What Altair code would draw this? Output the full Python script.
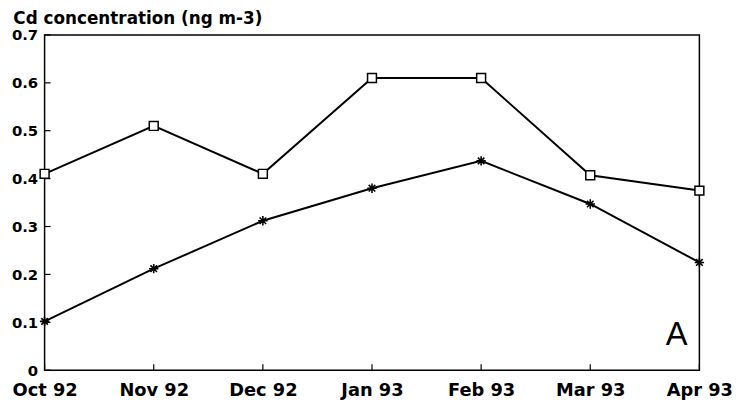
import altair as alt
import pandas as pd

months = ["Oct 92", "Nov 92", "Dec 92", "Jan 93", "Feb 93", "Mar 93", "Apr 93"]
series_square = [0.41, 0.51, 0.41, 0.61, 0.61, 0.407, 0.375]
series_star = [0.102, 0.212, 0.312, 0.38, 0.437, 0.347, 0.225]
y_ticks = [0, 0.1, 0.2, 0.3, 0.4, 0.5, 0.6, 0.7]
title_text = "Cd concentration (ng m-3)"
panel_letter = "A"

W, H = 662, 339

sq = pd.DataFrame({"month": months, "value": series_square, "series": "square"})
st = pd.DataFrame({"month": months, "value": series_star, "series": "star"})
df = pd.concat([sq, st], ignore_index=True)
ticks_y = pd.DataFrame({"value": y_ticks})
ticks_x = pd.DataFrame({"month": months})

x_scale = alt.Scale(type="point", domain=months, padding=0)
x_enc = alt.X(
    "month:N", sort=None, scale=x_scale,
    axis=alt.Axis(title=None, labelAngle=0, tickSize=0, domain=False,
                  labelFont="DejaVu Sans", labelFontWeight="bold", labelFontSize=18,
                  labelColor="black", labelPadding=12, grid=False),
)
x_plain = alt.X("month:N", sort=None, scale=x_scale)
y_scale = alt.Scale(domain=[0, 0.7], nice=False, zero=True)
y_enc = alt.Y(
    "value:Q", scale=y_scale,
    axis=alt.Axis(title=None, values=y_ticks, tickSize=0, domain=False, grid=False,
                  labelExpr="datum.value == 0 ? '0' : format(datum.value, '.1f')",
                  labelFont="DejaVu Sans", labelFontWeight="bold", labelFontSize=15,
                  labelColor="black", labelPadding=7),
)
y_plain = alt.Y("value:Q", scale=y_scale)

lines = alt.Chart(df).mark_line(color="black", strokeWidth=2).encode(
    x=x_enc, y=y_enc, detail="series:N"
)
squares = alt.Chart(sq).mark_point(
    shape="square", size=81, filled=False, fill="white", fillOpacity=1,
    stroke="black", strokeWidth=1.5, opacity=1
).encode(x=x_plain, y=y_plain)
stars = alt.Chart(st).mark_point(
    shape="M-1,0L1,0M0,-1L0,1M-0.7,-0.7L0.7,0.7M-0.7,0.7L0.7,-0.7",
    size=90, filled=False, stroke="black", strokeWidth=1.6, opacity=1
).encode(x=x_plain, y=y_plain)

ytick_rules = alt.Chart(ticks_y).mark_rule(color="black", strokeWidth=1.2).encode(
    y=y_plain, x=alt.value(0), x2=alt.value(6)
)
xtick_rules = alt.Chart(ticks_x).mark_rule(color="black", strokeWidth=1.2).encode(
    x=x_plain, y=alt.value(H), y2=alt.value(H - 6)
)
letter = alt.Chart(pd.DataFrame({"t": [panel_letter]})).mark_text(
    font="Liberation Sans", fontSize=33, align="right", baseline="alphabetic",
    color="black", fontWeight=500
).encode(text="t:N", x=alt.value(W - 12), y=alt.value(H - 25))

chart = alt.layer(lines, squares, stars, ytick_rules, xtick_rules, letter).properties(
    width=W, height=H,
    title=alt.TitleParams(title_text, anchor="start", font="DejaVu Sans", fontSize=17,
                          fontWeight="bold", color="black", offset=0, dx=2),
    padding={"left": 37, "top": 25, "right": 35, "bottom": 37},
    autosize=alt.AutoSizeParams(type="none"),
    background="white",
).configure_view(stroke="black", strokeWidth=1.5)

chart.save("out.html", embed_options={"renderer": "svg", "actions": False})
